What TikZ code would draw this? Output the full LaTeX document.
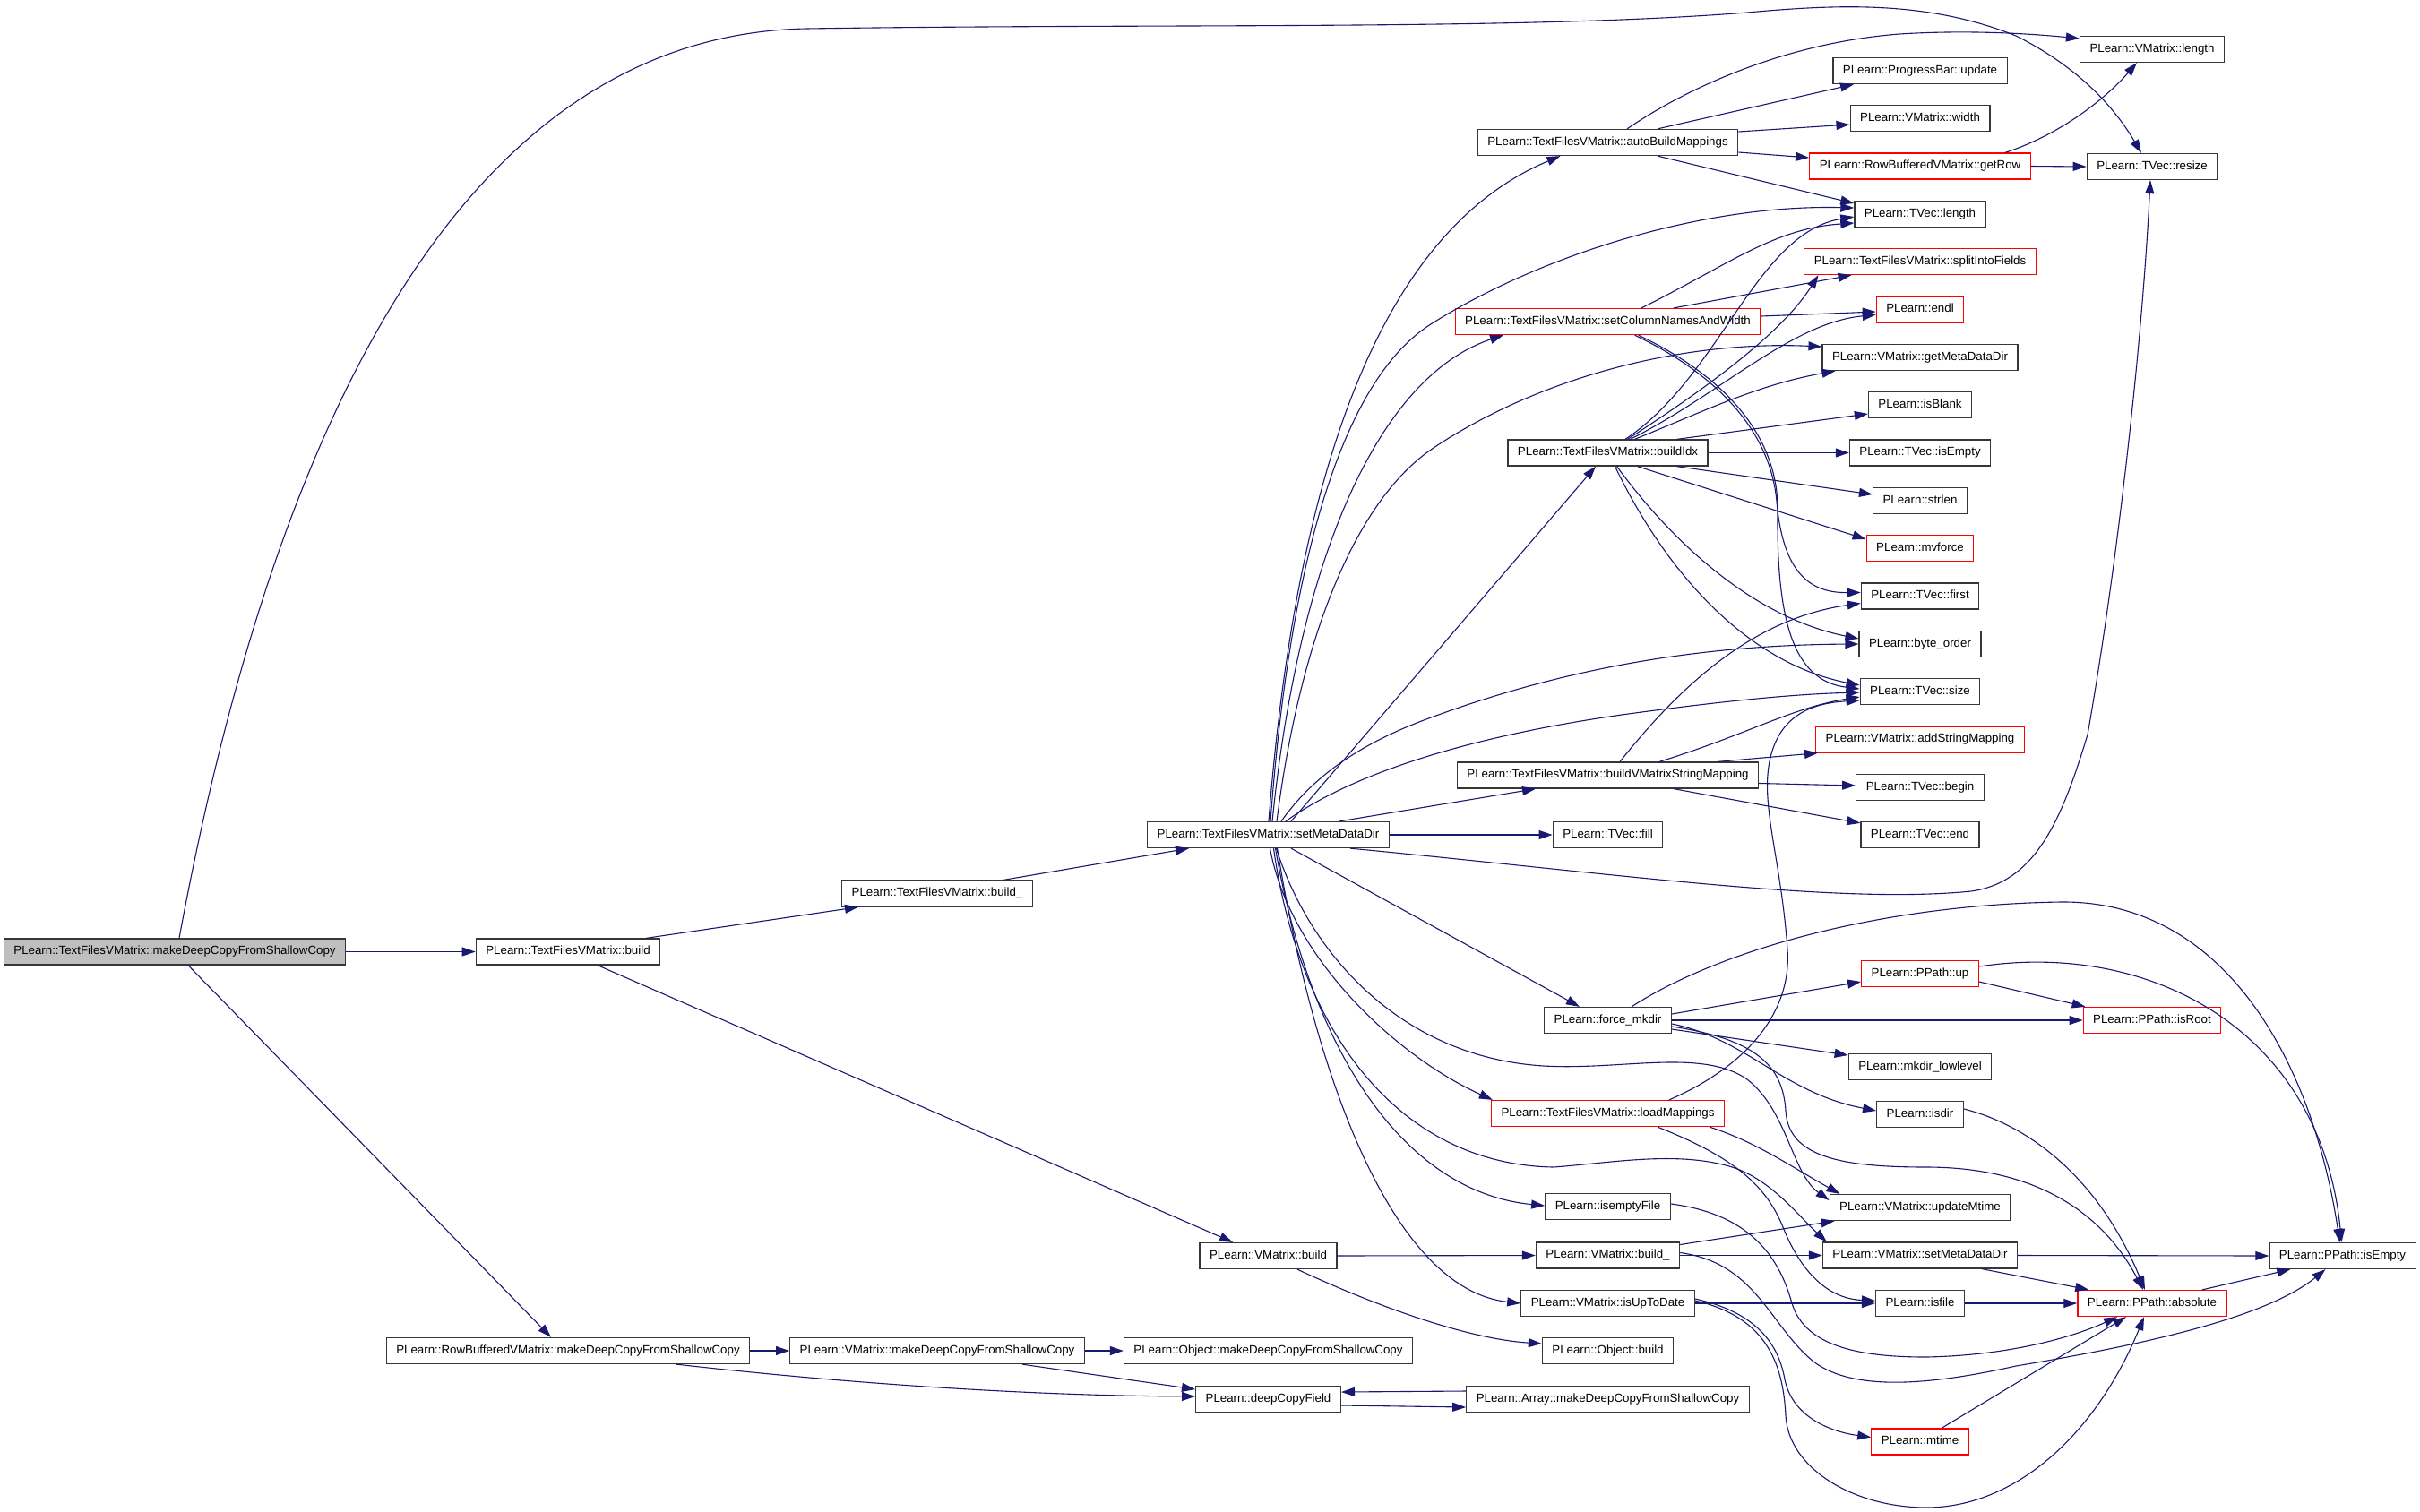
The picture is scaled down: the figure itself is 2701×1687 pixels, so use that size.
\documentclass[tikz,border=0pt]{standalone}
\usepackage{fontspec}
\setmainfont{Liberation Sans}
\usetikzlibrary{arrows.meta,calc}
\definecolor{edgec}{RGB}{25,25,112}
\definecolor{boxc}{RGB}{55,55,55}
\definecolor{rootgray}{RGB}{191,191,191}
\definecolor{redc}{RGB}{255,0,0}
\tikzset{
  nb/.style={draw=boxc, line width=1.25pt, fill=white, inner xsep=11pt, inner ysep=0pt,
    minimum height=29pt, text height=9.6pt, text depth=2.8pt,
    font=\fontsize{13.3}{16}\selectfont},
  nr/.style={nb, draw=redc},
  e/.style={draw=edgec, line width=1.1pt, -{Triangle[length=15pt,width=10pt]}},
}
\begin{document}
\begin{tikzpicture}[x=1pt,y=-1pt]
\useasboundingbox (0,0) rectangle (2701,1687);
\fill[white] (0,0) rectangle (2701,1687);
% nodes
\node[nb,fill=rootgray] (n1) at (195,1062.5) {PLearn::TextFilesVMatrix::makeDeepCopyFromShallowCopy};
\node[nb] (n2) at (634,1062.5) {PLearn::TextFilesVMatrix::build};
\node[nb] (n3) at (1046,997.5) {PLearn::TextFilesVMatrix::build\_};
\node[nb] (n4) at (1415.5,932) {PLearn::TextFilesVMatrix::setMetaDataDir};
\node[nb] (n5) at (1794.5,159) {PLearn::TextFilesVMatrix::autoBuildMappings};
\node[nb] (n6) at (2402,55) {PLearn::VMatrix::length};
\node[nb] (n7) at (2143,79) {PLearn::ProgressBar::update};
\node[nb] (n8) at (2143,132) {PLearn::VMatrix::width};
\node[nr] (n9) at (2143,185.5) {PLearn::RowBufferedVMatrix::getRow};
\node[nb] (n10) at (2402,186) {PLearn::TVec::resize};
\node[nb] (n11) at (2143,239) {PLearn::TVec::length};
\node[nr] (n12) at (2143,292) {PLearn::TextFilesVMatrix::splitIntoFields};
\node[nr] (n13) at (1794.5,359) {PLearn::TextFilesVMatrix::setColumnNamesAndWidth};
\node[nr] (n14) at (2143,345.5) {PLearn::endl};
\node[nb] (n15) at (2143,399) {PLearn::VMatrix::getMetaDataDir};
\node[nb] (n16) at (2143,452) {PLearn::isBlank};
\node[nb] (n17) at (1794.5,505.5) {PLearn::TextFilesVMatrix::buildIdx};
\node[nb] (n18) at (2143,505.5) {PLearn::TVec::isEmpty};
\node[nb] (n19) at (2143,559) {PLearn::strlen};
\node[nr] (n20) at (2143,612) {PLearn::mvforce};
\node[nb] (n21) at (2143,665.5) {PLearn::TVec::first};
\node[nb] (n22) at (2143,719) {PLearn::byte\_order};
\node[nb] (n23) at (2143,772) {PLearn::TVec::size};
\node[nr] (n24) at (2143,825.5) {PLearn::VMatrix::addStringMapping};
\node[nb] (n25) at (1794.5,865.5) {PLearn::TextFilesVMatrix::buildVMatrixStringMapping};
\node[nb] (n26) at (2143,879) {PLearn::TVec::begin};
\node[nb] (n27) at (2143,932) {PLearn::TVec::end};
\node[nb] (n28) at (1794.5,932) {PLearn::TVec::fill};
\node[nb] (n29) at (1794.5,1139) {PLearn::force\_mkdir};
\node[nr] (n30) at (2143,1087) {PLearn::PPath::up};
\node[nr] (n31) at (2402,1139) {PLearn::PPath::isRoot};
\node[nb] (n32) at (2143,1191) {PLearn::mkdir\_lowlevel};
\node[nb] (n33) at (2143,1244) {PLearn::isdir};
\node[nr] (n34) at (1794.5,1243) {PLearn::TextFilesVMatrix::loadMappings};
\node[nb] (n35) at (2143,1348) {PLearn::VMatrix::updateMtime};
\node[nb] (n36) at (1794.5,1347) {PLearn::isemptyFile};
\node[nb] (n37) at (1794.5,1401.5) {PLearn::VMatrix::build\_};
\node[nb] (n38) at (2143,1401.5) {PLearn::VMatrix::setMetaDataDir};
\node[nb] (n39) at (2614.5,1402) {PLearn::PPath::isEmpty};
\node[nb] (n40) at (1415.5,1402) {PLearn::VMatrix::build};
\node[nb] (n41) at (1794.5,1455) {PLearn::VMatrix::isUpToDate};
\node[nb] (n42) at (2143,1455) {PLearn::isfile};
\node[nr] (n43) at (2402,1455) {PLearn::PPath::absolute};
\node[nb] (n44) at (1794.5,1508) {PLearn::Object::build};
\node[nb] (n45) at (634,1508) {PLearn::RowBufferedVMatrix::makeDeepCopyFromShallowCopy};
\node[nb] (n46) at (1046,1508) {PLearn::VMatrix::makeDeepCopyFromShallowCopy};
\node[nb] (n47) at (1415.5,1508) {PLearn::Object::makeDeepCopyFromShallowCopy};
\node[nb] (n48) at (1415.5,1562) {PLearn::deepCopyField};
\node[nb] (n49) at (1794.5,1562) {PLearn::Array::makeDeepCopyFromShallowCopy};
\node[nr] (n50) at (2143,1609.5) {PLearn::mtime};
% edges from root
\draw[e] (n1.east) -- (n2.west);
\draw[e] ($(n1.north)+(5,0)$) .. controls (290,560) and (480,40) .. (900,32) .. controls (1300,26) and (1700,34) .. (1950,14) .. controls (2050,5) and (2150,0) .. (2250,40) .. controls (2320,75) and (2360,120) .. ($(n10.north)+(-12,0)$);
\draw[e] ($(n1.south)+(15,0)$) -- ($(n45.north)+(-19,0)$);
\draw[e] ($(n2.north)+(87,0)$) -- ($(n3.south)+(-88,0)$);
\draw[e] ($(n2.south)+(33,0)$) -- ($(n40.north)+(-39.5,0)$);
\draw[e] ($(n3.north)+(74,0)$) -- ($(n4.south)+(-88.5,0)$);
\draw[e] (n45.east) -- (n46.west);
\draw[e] ($(n45.south)+(121,0)$) .. controls (950,1545) and (1150,1558) .. ($(n48.west)+(0,-3)$);
\draw[e] (n46.east) -- (n47.west);
\draw[e] ($(n46.south)+(95,0)$) -- ($(n48.west)+(0,-11)$);
\draw[e] ($(n48.east)+(0,7)$) -- ($(n49.west)+(0,9)$);
\draw[e] ($(n49.west)+(0,-9)$) -- ($(n48.east)+(0,-8)$);
\draw[e] (n40.east) -- (n37.west);
\draw[e] ($(n40.south)+(32.5,0)$) .. controls (1540,1460) and (1640,1495) .. ($(n44.west)+(0,-8)$);
% edges from setMetaDataDir
\draw[e] ($(n4.north)+(0.5,0)$) .. controls (1450,480) and (1560,250) .. ($(n5.south)+(-53,0)$);
\draw[e] ($(n4.north)+(2.5,0)$) .. controls (1440,620) and (1500,420) .. (1600,360) .. controls (1720,285) and (1900,228) .. ($(n11.west)+(0,-7)$);
\draw[e] ($(n4.north)+(4.5,0)$) .. controls (1450,620) and (1540,420) .. ($(n13.south)+(-116.5,0)$);
\draw[e] ($(n4.north)+(9.5,0)$) .. controls (1450,720) and (1510,560) .. (1600,500) .. controls (1720,420) and (1880,380) .. ($(n15.west)+(0,-12)$);
\draw[e] ($(n4.north)+(25.5,0)$) -- ($(n17.south)+(-13.5,0)$);
\draw[e] ($(n4.north)+(14.5,0)$) .. controls (1470,860) and (1530,825) .. (1600,800) .. controls (1750,745) and (1900,720) .. (n22.west);
\draw[e] ($(n4.north)+(19.5,0)$) .. controls (1500,870) and (1620,825) .. (1810,798) .. controls (1920,783) and (2000,775) .. ($(n23.west)+(0,1)$);
\draw[e] ($(n4.north)+(79.5,0)$) -- ($(n25.south)+(-80.5,0)$);
\draw[e] (n4.east) -- (n28.west);
\draw[e] ($(n4.south)+(91.5,0)$) .. controls (1800,975) and (2050,1010) .. (2200,995) .. controls (2270,985) and (2300,920) .. (2330,820) .. controls (2360,650) and (2390,400) .. ($(n10.south)+(-2,0)$);
\draw[e] ($(n4.south)+(25.5,0)$) -- ($(n29.north)+(-31.5,0)$);
\draw[e] ($(n4.south)+(2,0)$) .. controls (1440,1070) and (1560,1180) .. ($(n34.north west)+(2,0)$);
\draw[e] ($(n4.south)+(9,0)$) .. controls (1460,1060) and (1560,1180) .. (1723,1190) .. controls (1810,1195) and (1900,1170) .. (1950,1205) .. controls (1995,1240) and (2000,1310) .. ($(n35.west)+(0,-8)$);
\draw[e] ($(n4.south)+(6,0)$) .. controls (1450,1150) and (1560,1300) .. (1734,1303) .. controls (1800,1298) and (1870,1285) .. (1930,1302) .. controls (1975,1315) and (2005,1355) .. ($(n38.north west)+(5,0)$);
\draw[e] ($(n4.south)+(8,0)$) .. controls (1460,1160) and (1560,1330) .. ($(n36.west)+(0,-1)$);
\draw[e] ($(n4.south)+(10,0)$) .. controls (1470,1220) and (1560,1440) .. (n41.west);
% autoBuildMappings
\draw[e] ($(n5.north)+(21.5,0)$) .. controls (1880,100) and (1990,48) .. (2120,38) .. controls (2200,33) and (2270,38) .. ($(n6.west)+(0,-12)$);
\draw[e] ($(n5.north)+(55.5,0)$) -- ($(n7.south)+(-74,0)$);
\draw[e] ($(n5.east)+(0,-12)$) -- ($(n8.west)+(0,7)$);
\draw[e] ($(n5.east)+(0,11)$) -- ($(n9.west)+(0,-9.5)$);
\draw[e] ($(n5.south)+(55.5,0)$) -- ($(n11.west)+(0,-12)$);
% getRow
\draw[e] ($(n9.north)+(95,0)$) .. controls (2300,150) and (2350,110) .. ($(n6.south)+(-17,0)$);
\draw[e] (n9.east) -- (n10.west);
% setColumnNamesAndWidth
\draw[e] ($(n13.north)+(37.5,0)$) .. controls (1930,295) and (1980,255) .. ($(n11.west)+(0,10)$);
\draw[e] ($(n13.north)+(73.5,0)$) -- ($(n12.south)+(-76.5,0)$);
\draw[e] ($(n13.east)+(0,-6)$) -- ($(n14.west)+(0,2.5)$);
\draw[e] ($(n13.south)+(30,0)$) .. controls (1900,410) and (1975,470) .. (1983,560) .. controls (1990,640) and (2020,662) .. ($(n21.west)+(0,-4)$);
\draw[e] ($(n13.south)+(34,0)$) .. controls (1915,415) and (1985,480) .. (1984,570) .. controls (1983,690) and (2000,760) .. ($(n23.west)+(0,-3)$);
% buildIdx
\draw[e] ($(n17.north)+(19.5,0)$) .. controls (1920,420) and (1960,260) .. ($(n11.west)+(0,3)$);
\draw[e] ($(n17.north)+(22,0)$) .. controls (1910,430) and (1990,370) .. ($(n12.south)+(-113.5,0)$);
\draw[e] ($(n17.north)+(25,0)$) .. controls (1920,440) and (2000,360) .. ($(n14.west)+(0,6)$);
\draw[e] ($(n17.north)+(30,0)$) .. controls (1900,460) and (1960,430) .. ($(n15.south west)+(15,0)$);
\draw[e] ($(n17.north)+(77,0)$) -- ($(n16.west)+(0,10)$);
\draw[e] (n17.east) -- (n18.west);
\draw[e] ($(n17.south)+(77,0)$) -- ($(n19.west)+(0,-7)$);
\draw[e] ($(n17.south)+(33,0)$) -- ($(n20.west)+(0,-10)$);
\draw[e] ($(n17.south)+(10,0)$) .. controls (1870,610) and (1960,690) .. ($(n22.west)+(0,-6)$);
\draw[e] ($(n17.south)+(8,0)$) .. controls (1860,640) and (1950,740) .. ($(n23.west)+(0,-7)$);
% buildVMatrixStringMapping
\draw[e] ($(n25.north)+(13.5,0)$) .. controls (1880,760) and (1960,690) .. ($(n21.west)+(0,8)$);
\draw[e] ($(n25.north)+(57.5,0)$) .. controls (1950,820) and (2000,790) .. ($(n23.west)+(0,6)$);
\draw[e] ($(n25.north)+(122.5,0)$) -- ($(n24.south west)+(3,0)$);
\draw[e] ($(n25.east)+(0,9)$) -- ($(n26.west)+(0,-2)$);
\draw[e] ($(n25.south)+(73.5,0)$) -- ($(n27.north west)+(0,2)$);
% force_mkdir
\draw[e] ($(n29.east)+(0,-7)$) -- ($(n30.west)+(0,9)$);
\draw[e] (n29.east) -- (n31.west);
\draw[e] ($(n29.east)+(0,10)$) -- ($(n32.west)+(0,-13)$);
\draw[e] ($(n29.east)+(0,4)$) .. controls (1950,1160) and (1990,1220) .. ($(n33.west)+(0,-4)$);
\draw[e] ($(n29.east)+(0,7)$) .. controls (1960,1160) and (1990,1190) .. (1993,1240) .. controls (1996,1290) and (2050,1303) .. (2150,1303) .. controls (2280,1303) and (2350,1360) .. ($(n43.north)+(-10,0)$);
\draw[e] ($(n29.north)+(26.5,0)$) .. controls (1920,1060) and (2100,1010) .. (2300,1007) .. controls (2480,1005) and (2580,1180) .. ($(n39.north)+(-3,0)$);
% PPath::up
\draw[e] ($(n30.east)+(0,-8)$) .. controls (2400,1050) and (2590,1150) .. ($(n39.north)+(-1,0)$);
\draw[e] ($(n30.east)+(0,9)$) -- ($(n31.north west)+(3,0)$);
% isdir
\draw[e] ($(n33.east)+(0,-6)$) .. controls (2260,1255) and (2340,1310) .. ($(n43.north)+(-8,0)$);
% loadMappings
\draw[e] ($(n34.north)+(68.5,0)$) .. controls (1950,1190) and (2000,1130) .. (1995,1060) .. controls (1988,960) and (1965,900) .. (1975,850) .. controls (1985,800) and (2020,785) .. ($(n23.west)+(0,10)$);
\draw[e] ($(n34.south)+(55.5,0)$) .. controls (1930,1290) and (1970,1320) .. (1990,1370) .. controls (2010,1420) and (2040,1450) .. ($(n42.west)+(0,-3)$);
\draw[e] ($(n34.south)+(113.5,0)$) .. controls (1960,1275) and (1995,1300) .. ($(n35.north west)+(12,0)$);
% VMatrix::build_
\draw[e] (n37.east) -- (n38.west);
\draw[e] ($(n37.east)+(0,-12)$) -- ($(n35.south west)+(6,0)$);
\draw[e] ($(n37.east)+(0,-3)$) .. controls (1960,1410) and (1975,1480) .. (2024,1520) .. controls (2070,1555) and (2160,1545) .. (2250,1525) .. controls (2400,1500) and (2530,1470) .. ($(n39.south)+(-19,0)$);
% isemptyFile
\draw[e] ($(n36.east)+(0,-3)$) .. controls (1950,1355) and (1985,1400) .. (2000,1455) .. controls (2015,1505) and (2080,1515) .. (2150,1515) .. controls (2250,1513) and (2320,1490) .. ($(n43.south)+(-39,0)$);
% isUpToDate
\draw[e] (n41.east) -- (n42.west);
\draw[e] ($(n41.east)+(0,-5)$) .. controls (1960,1465) and (1985,1500) .. (1992,1540) .. controls (2000,1580) and (2040,1598) .. ($(n50.west)+(0,-5)$);
\draw[e] ($(n41.east)+(0,-3)$) .. controls (1970,1470) and (1990,1520) .. (1993,1580) .. controls (1996,1640) and (2070,1683) .. (2150,1683) .. controls (2250,1683) and (2340,1600) .. ($(n43.south)+(-9,0)$);
% others
\draw[e] (n42.east) -- (n43.west);
\draw[e] (n38.east) -- (n39.west);
\draw[e] ($(n38.south)+(69,0)$) -- ($(n43.north west)+(13,0)$);
\draw[e] ($(n43.north)+(56,0)$) -- ($(n39.south west)+(24,0)$);
\draw[e] ($(n50.north)+(24,0)$) -- ($(n43.south)+(-29,0)$);
\end{tikzpicture}
\end{document}
